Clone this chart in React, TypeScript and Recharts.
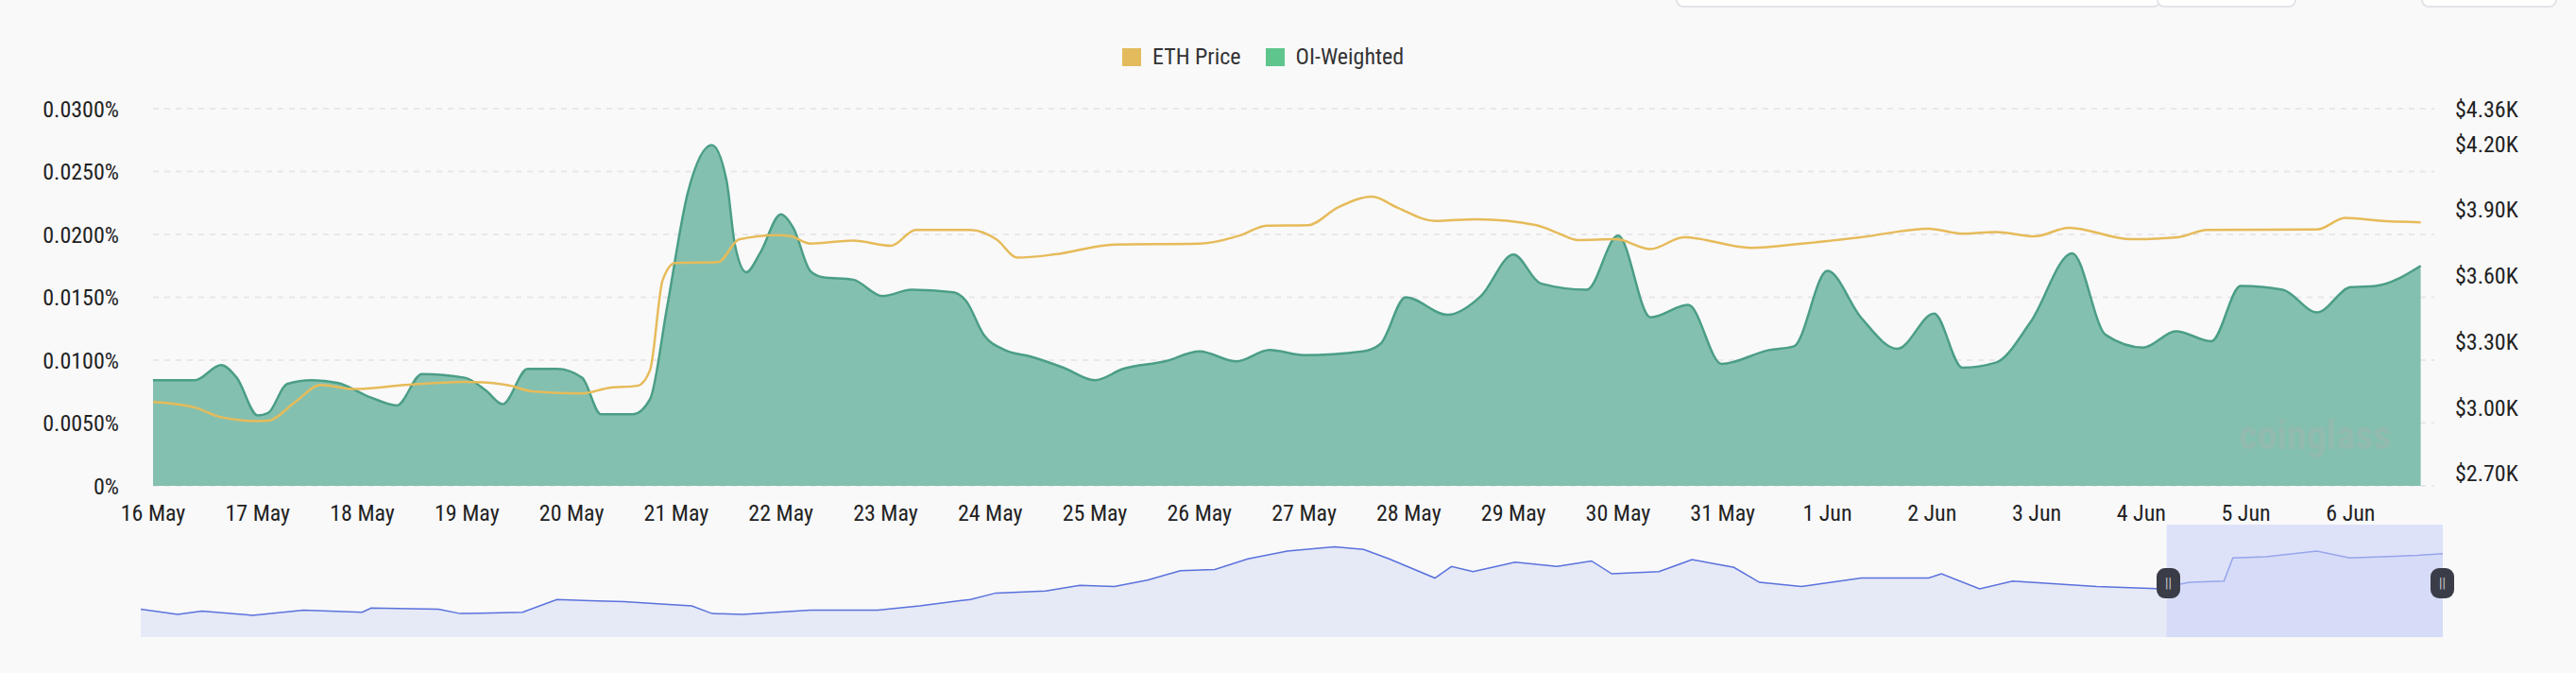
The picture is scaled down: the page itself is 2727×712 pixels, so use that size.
import React from 'react';
import { ComposedChart, AreaChart, Area, Line, XAxis, YAxis, CartesianGrid, ReferenceArea } from 'recharts';

// day index 0 = 16 May
const dayLabels = ['16 May', '17 May', '18 May', '19 May', '20 May', '21 May', '22 May', '23 May', '24 May', '25 May', '26 May', '27 May', '28 May', '29 May', '30 May', '31 May', '1 Jun', '2 Jun', '3 Jun', '4 Jun', '5 Jun', '6 Jun'];

// OI-weighted funding rate, in %
const oiDays = [0, 0.4, 0.65, 0.8, 1.0, 1.1, 1.28, 1.52, 1.76, 2.09, 2.33, 2.57, 2.98, 3.18, 3.34, 3.58, 3.86, 4.1, 4.28, 4.59, 4.75, 4.91, 5.11, 5.34, 5.48, 5.56, 5.67, 5.8, 6.0, 6.12, 6.28, 6.4, 6.69, 6.97, 7.25, 7.65, 7.77, 7.94, 8.14, 8.38, 8.7, 9.0, 9.27, 9.67, 10.0, 10.35, 10.67, 11.0, 11.56, 11.73, 11.97, 12.37, 12.69, 13.0, 13.26, 13.7, 14.0, 14.31, 14.67, 14.99, 15.44, 15.68, 16.0, 16.32, 16.67, 17.02, 17.29, 17.61, 17.94, 18.34, 18.66, 19.02, 19.33, 19.67, 19.95, 20.35, 20.68, 21.0, 21.24, 21.67];
const oiValues = [0.0084, 0.0084, 0.0096, 0.0086, 0.0056, 0.0058, 0.0081, 0.0084, 0.0082, 0.0070, 0.0064, 0.0089, 0.0086, 0.0076, 0.0065, 0.0093, 0.0093, 0.0086, 0.0057, 0.0057, 0.0069, 0.0141, 0.0233, 0.0271, 0.0243, 0.0192, 0.0170, 0.0185, 0.0216, 0.0205, 0.0171, 0.0166, 0.0164, 0.0151, 0.0156, 0.0154, 0.0147, 0.0120, 0.0108, 0.0103, 0.0094, 0.0084, 0.0093, 0.0099, 0.0107, 0.0099, 0.0108, 0.0104, 0.0107, 0.0113, 0.0150, 0.0136, 0.0151, 0.0184, 0.0161, 0.0156, 0.0199, 0.0134, 0.0144, 0.0097, 0.0108, 0.0111, 0.0171, 0.0134, 0.0109, 0.0137, 0.0094, 0.0098, 0.0130, 0.0185, 0.0120, 0.0110, 0.0123, 0.0115, 0.0159, 0.0156, 0.0138, 0.0158, 0.0159, 0.0175];

// ETH price, in $K
const priceDays = [0, 0.4, 0.64, 1.0, 1.1, 1.36, 1.6, 1.93, 2.41, 2.98, 3.38, 3.62, 4.1, 4.35, 4.63, 4.75, 4.87, 4.99, 5.4, 5.6, 5.96, 6.1, 6.28, 6.69, 7.05, 7.29, 7.81, 8.06, 8.26, 8.62, 9.19, 10.0, 10.4, 10.64, 11.04, 11.32, 11.65, 11.89, 12.25, 12.65, 13.22, 13.42, 13.62, 13.98, 14.31, 14.63, 15.27, 15.76, 16.32, 16.97, 17.29, 17.61, 17.98, 18.31, 18.9, 19.35, 19.63, 20.68, 20.95, 21.31, 21.67];
const priceValues = [3.025, 3.0, 2.957, 2.938, 2.94, 3.025, 3.103, 3.084, 3.103, 3.117, 3.103, 3.074, 3.064, 3.089, 3.099, 3.171, 3.58, 3.658, 3.662, 3.765, 3.785, 3.779, 3.746, 3.76, 3.736, 3.808, 3.808, 3.765, 3.682, 3.697, 3.742, 3.746, 3.785, 3.828, 3.83, 3.91, 3.96, 3.91, 3.849, 3.857, 3.83, 3.795, 3.762, 3.766, 3.721, 3.775, 3.727, 3.746, 3.775, 3.814, 3.791, 3.799, 3.779, 3.818, 3.766, 3.775, 3.808, 3.81, 3.863, 3.849, 3.843];

const leftTicks = [0, 0.005, 0.01, 0.015, 0.02, 0.025, 0.03];
const rightTicks = [2.7, 3.0, 3.3, 3.6, 3.9, 4.2, 4.36];

// overview (brush) series, whole history
const ovDays = [0, 2.9, 4.8, 8.8, 12.8, 17.4, 18.1, 23.4, 25.1, 30, 32.7, 35.3, 38, 40.6, 43.3, 44.9, 47.3, 52.6, 57.9, 61.2, 65.2, 67.2, 71.1, 73.8, 76.5, 79.1, 81.7, 84.4, 87, 90.1, 93.8, 96.1, 98.1, 101.7, 103, 104.7, 108, 111.3, 114, 115.6, 119.3, 121.9, 125.2, 127.2, 130.5, 135.2, 140.5, 141.5, 144.5, 147.1, 153.7, 158.4, 161, 163.7, 164.4, 167, 171, 173.6, 178.9, 180.9];
const ovValues = [65, 53, 61, 51, 63, 58, 68, 65, 55, 58, 88, 85, 83, 78, 73, 55, 53, 63, 63, 73, 88, 103, 108, 121, 118, 133, 155, 158, 183, 201, 211, 205, 183, 138, 165, 153, 175, 165, 178, 148, 153, 181, 163, 128, 118, 138, 138, 148, 113, 131, 118, 113, 128, 131, 185, 188, 201, 185, 191, 195];

const oiData = oiDays.map((d, i) => ({ d, v: oiValues[i] }));
const priceData = priceDays.map((d, i) => ({ d, p: priceValues[i] }));
const ovData = ovDays.map((d, i) => ({ d, v: ovValues[i] }));

const font = '"Liberation Sans Narrow", "Roboto Condensed", Roboto, sans-serif';
const tickStyle = { fill: '#222', fontSize: 24, fontFamily: font };

const Handle = ({ left }: { left: number }) => (
  <div style={{ position: 'absolute', left: left - 12, top: 601, width: 25, height: 32, borderRadius: 9, background: '#3a3d48', color: '#ccc', fontSize: 14, lineHeight: '32px', textAlign: 'center', fontFamily: font }}>||</div>
);

export default function App() {
  return (
    <div style={{ position: 'absolute', left: 0, top: 0, width: 2727, height: 712, background: '#f9f9fa', overflow: 'hidden' }}>
      {/* toolbar buttons peeking at the top */}
      <div style={{ position: 'absolute', left: 1774, top: -20, width: 510, height: 24, border: '2px solid #e3e4e8', borderRadius: 8, background: '#fff' }} />
      <div style={{ position: 'absolute', left: 2283, top: -20, width: 144, height: 24, border: '2px solid #e3e4e8', borderRadius: 8, background: '#fff' }} />
      <div style={{ position: 'absolute', left: 2563, top: -20, width: 140, height: 24, border: '2px solid #e3e4e8', borderRadius: 8, background: '#fff' }} />

      <div style={{ position: 'absolute', left: 1188, top: 46, display: 'flex', alignItems: 'center', fontFamily: font, fontSize: 24, color: '#333' }}>
        <span style={{ width: 20, height: 19, background: '#e3bb5c', marginRight: 12 }} />
        <span style={{ marginRight: 26 }}>ETH Price</span>
        <span style={{ width: 20, height: 19, background: '#5ec58c', marginRight: 12 }} />
        <span>OI-Weighted</span>
      </div>

      <div style={{ position: 'absolute', left: 0, top: 0 }}>
        <ComposedChart width={2727} height={560} margin={{ top: 115, right: 0, bottom: 6, left: 0 }}>
          <CartesianGrid yAxisId="l" vertical={false} stroke="#e8e8ea" strokeDasharray="6 6" strokeWidth={2} />
          <XAxis dataKey="d" type="number" domain={[0, 21.8]} ticks={dayLabels.map((_, i) => i)} tickFormatter={(v) => dayLabels[v]} allowDuplicatedCategory={false} axisLine={false} tickLine={false} tick={tickStyle} tickMargin={14} height={40} interval={0} />
          <YAxis yAxisId="l" orientation="left" width={162} domain={[0, 0.03]} ticks={leftTicks} tickFormatter={(v) => (v === 0 ? '0%' : v.toFixed(4) + '%')} axisLine={false} tickLine={false} tickSize={0} tickMargin={36} tick={tickStyle} />
          <YAxis yAxisId="r" orientation="right" width={150} domain={[2.6435, 4.36]} ticks={rightTicks} tickFormatter={(v) => '$' + v.toFixed(2) + 'K'} axisLine={false} tickLine={false} tickSize={0} tickMargin={22} tick={{ ...tickStyle, textAnchor: 'start' }} />
          <Area yAxisId="l" data={oiData} dataKey="v" type="monotone" stroke="#4b9e86" strokeWidth={2.5} fill="#84c0b0" fillOpacity={1} isAnimationActive={false} />
          <Line yAxisId="r" data={priceData} dataKey="p" type="monotone" stroke="#e6bb5a" strokeWidth={2.5} dot={false} isAnimationActive={false} />
        </ComposedChart>
      </div>

      <div style={{ position: 'absolute', left: 2370, top: 436, fontFamily: font, fontSize: 42, color: '#a7b3af', opacity: 0.4, fontWeight: 700 }}>
        coinglass
      </div>

      <div style={{ position: 'absolute', left: 149, top: 555 }}>
        <AreaChart width={2437} height={119} data={ovData} margin={{ top: 0, right: 0, bottom: 0, left: 0 }}>
          <XAxis dataKey="d" type="number" domain={[0, 180.9]} hide />
          <YAxis domain={[0, 263]} hide />
          <Area dataKey="v" type="linear" stroke="#5a72dc" strokeWidth={1.5} fill="#e6e9f6" fillOpacity={1} isAnimationActive={false} />
          <ReferenceArea x1={159.2} x2={180.9} y1={0} y2={263} fill="#c9d0f7" fillOpacity={0.55} stroke="none" />
        </AreaChart>
      </div>
      <Handle left={2295} />
      <Handle left={2585} />
    </div>
  );
}
